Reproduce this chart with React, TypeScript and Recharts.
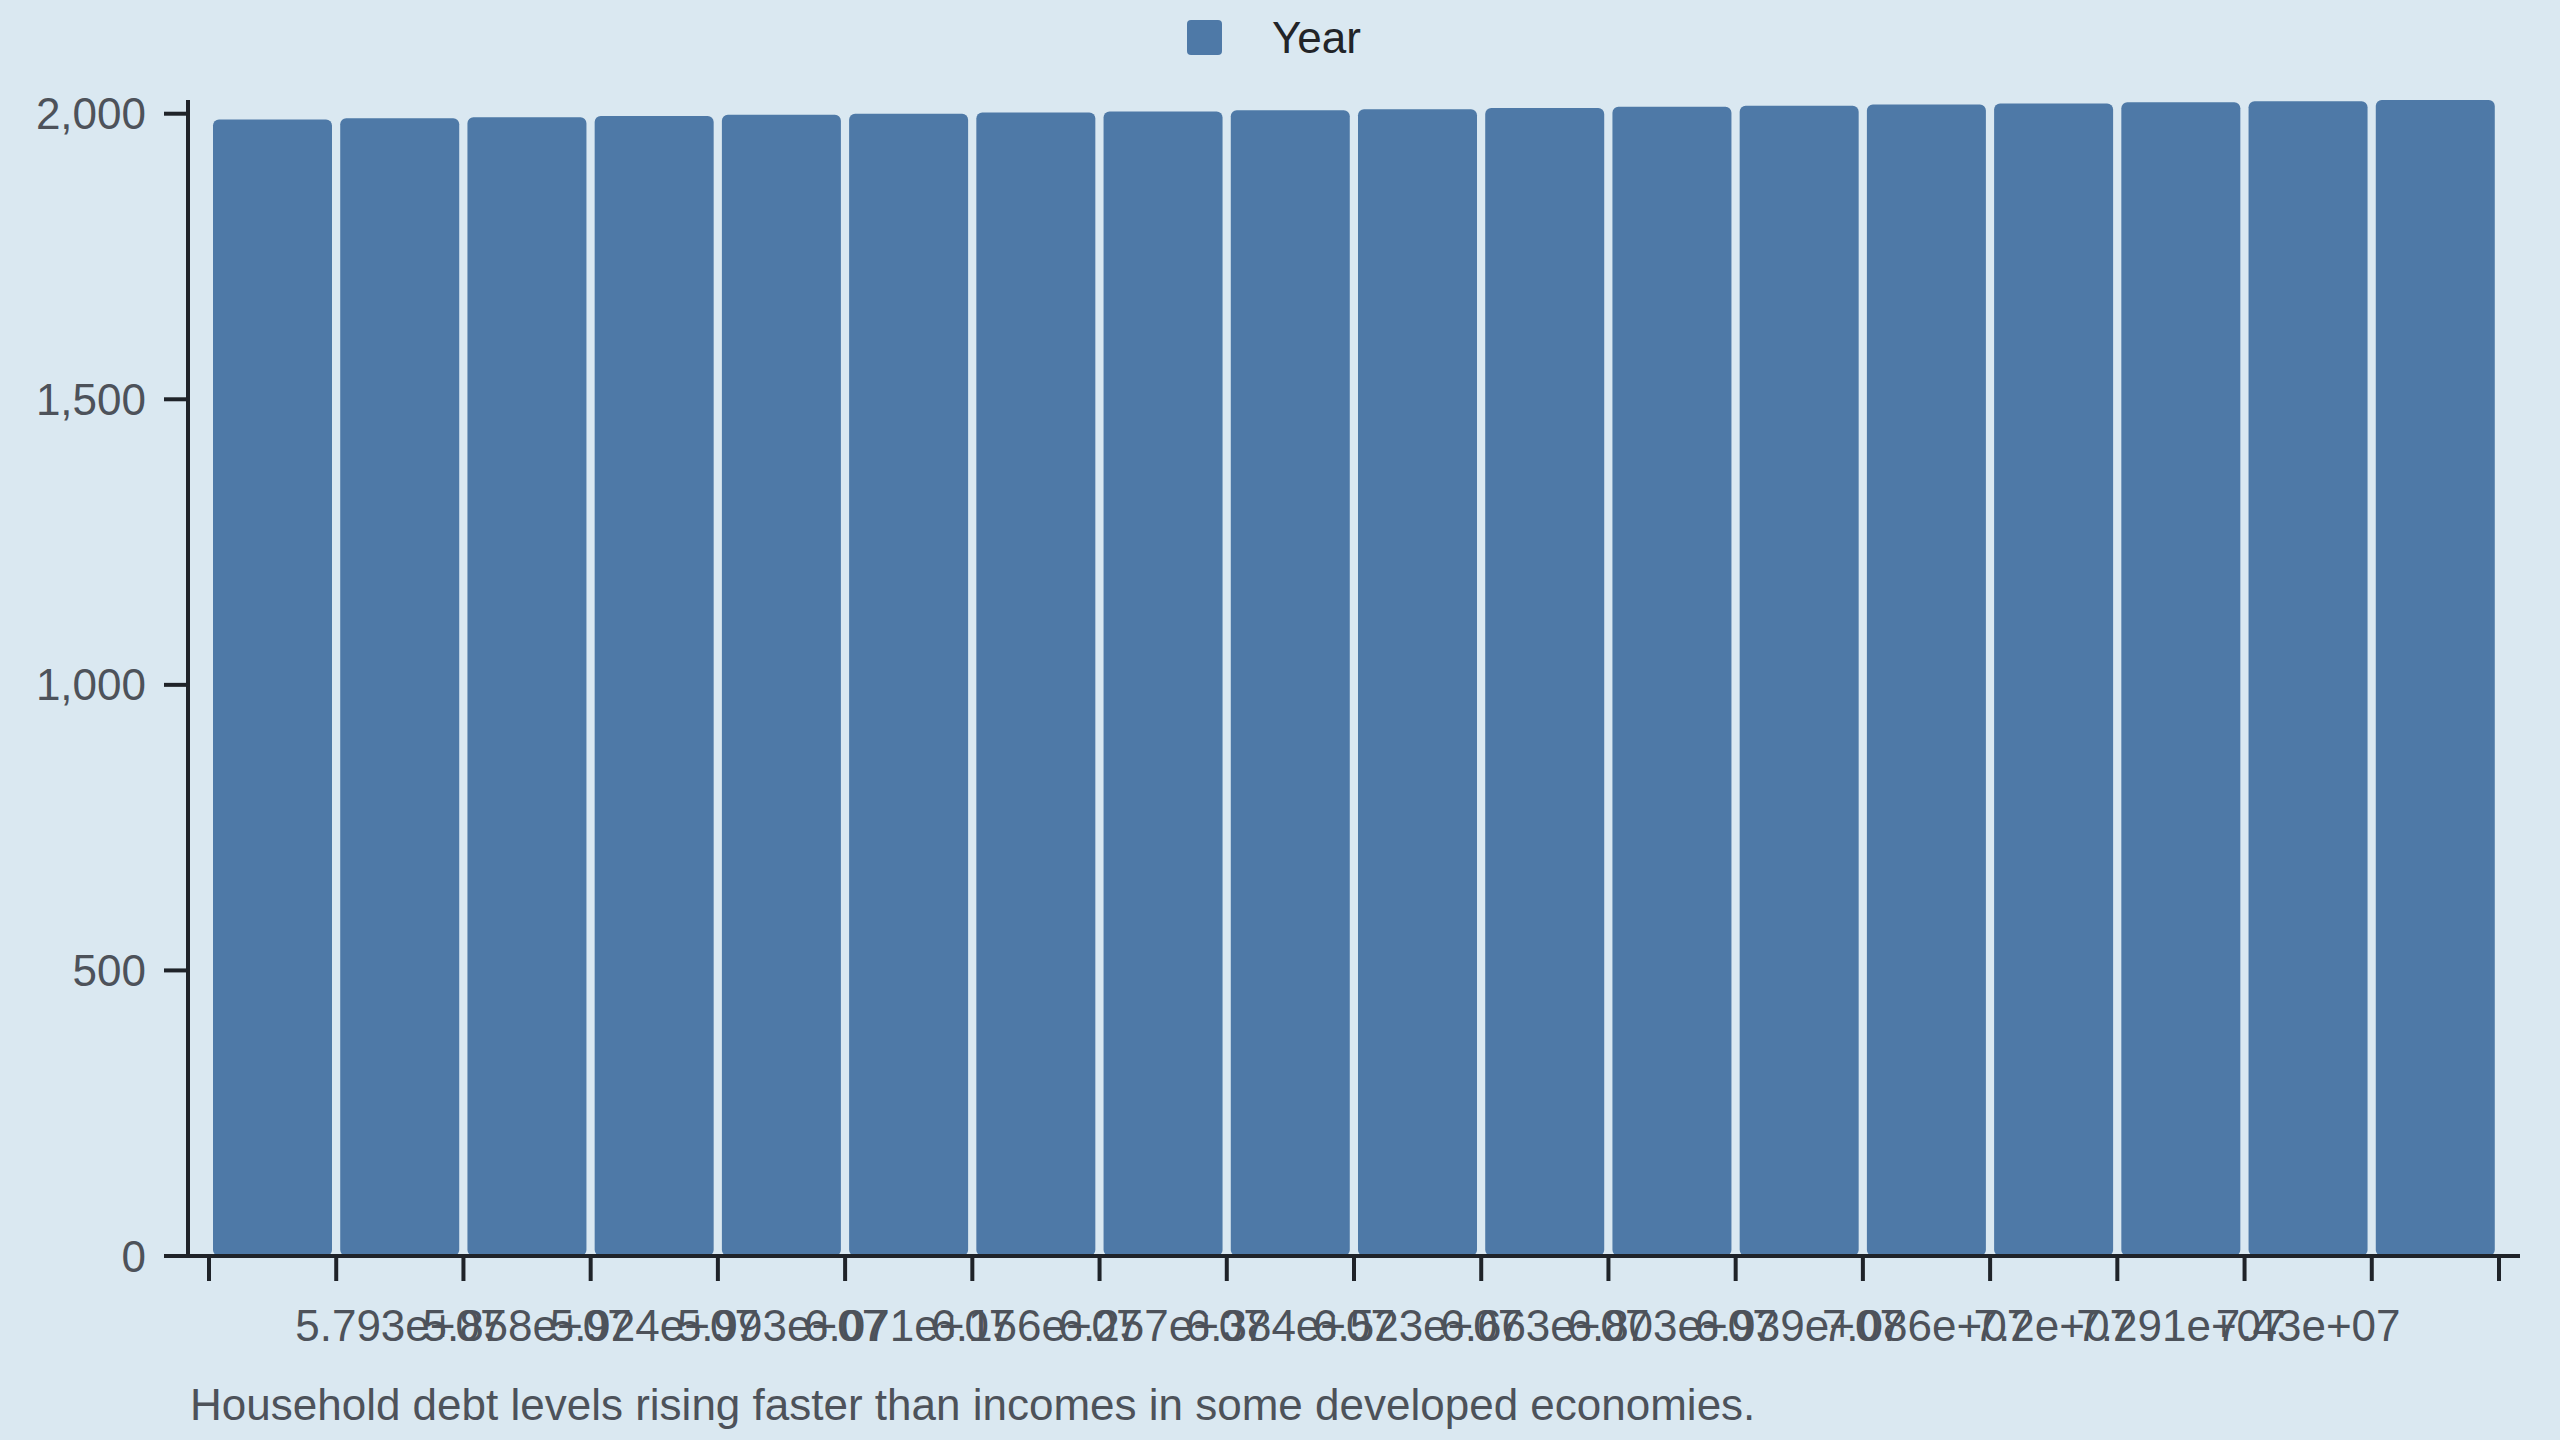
import { Bar, BarChart, XAxis, YAxis, Legend } from "recharts"

const years = [1990, 1992, 1994, 1996, 1998, 2000, 2002, 2004, 2006, 2008, 2010, 2012, 2014, 2016, 2018, 2020, 2022, 2024]

// one label per bar, first and last bars show none
const populationTicks = [
    "", "5.793e+07", "5.858e+07", "5.924e+07", "5.993e+07", "6.071e+07", "6.156e+07", "6.257e+07", "6.384e+07",
    "6.523e+07", "6.663e+07", "6.803e+07", "6.939e+07", "7.086e+07", "7.2e+07", "7.291e+07", "7.43e+07", "",
]

const yTicks = [0, 500, 1000, 1500, 2000]

const caption = "Household debt levels rising faster than incomes in some developed economies."

// mid = bar centre on a 0..n numeric scale, used for the tick marks between bars
const data = years.map((year, i) => ({ mid: i + 0.5, year, population: populationTicks[i] }))
const edgeTicks = Array.from({ length: years.length + 1 }, (_, i) => i)

const FONT = "'Liberation Sans', Arial, sans-serif"
const FS = 44
const AXIS = "#1f2329"
const TEXT = "#4d525a"
const BAR = "#4e79a7"

function LegendContent() {
    return (
        <div style={{ display: "flex", justifyContent: "center", alignItems: "center", gap: 50, height: 35 }}>
            <div style={{ width: 35, height: 35, background: BAR, borderRadius: 4 }} />
            <span style={{ fontSize: FS, lineHeight: 1, color: "#222428", fontFamily: FONT }}>Year</span>
        </div>
    )
}

export default function App() {
    return (
        <div style={{ position: "absolute", left: 0, top: 0, width: 2560, height: 1440, background: "#dae8f1", fontFamily: FONT }}>
            <BarChart
                width={2560}
                height={1440}
                data={data}
                margin={{ top: 100, right: 40, bottom: 182, left: 0 }}
                barCategoryGap={4}
            >
                <Legend
                    verticalAlign="middle"
                    align="center"
                    layout="horizontal"
                    wrapperStyle={{ top: 20, left: 0, width: 2548, height: 35 }}
                    content={<LegendContent />}
                />
                <XAxis
                    dataKey="year"
                    height={1}
                    interval={0}
                    padding={{ left: 21, right: 21 }}
                    tickFormatter={(_, i) => populationTicks[i]}
                    tickLine={false}
                    tickSize={24}
                    tickMargin={30}
                    axisLine={{ stroke: AXIS, strokeWidth: 4 }}
                    tick={{ fontSize: FS, fill: TEXT }}
                />
                <XAxis
                    xAxisId="edges"
                    dataKey="mid"
                    type="number"
                    domain={[0, years.length]}
                    allowDataOverflow
                    ticks={edgeTicks}
                    interval={0}
                    height={1}
                    padding={{ left: 21, right: 21 }}
                    tickFormatter={() => ""}
                    axisLine={false}
                    tickSize={24}
                    tickLine={{ stroke: AXIS, strokeWidth: 4 }}
                />
                <YAxis
                    width={188}
                    domain={[0, "dataMax"]}
                    ticks={yTicks}
                    interval={0}
                    tickFormatter={(v) => v.toLocaleString("en-US")}
                    tickSize={24}
                    tickMargin={18}
                    axisLine={{ stroke: AXIS, strokeWidth: 4 }}
                    tickLine={{ stroke: AXIS, strokeWidth: 4 }}
                    tick={{ fontSize: FS, fill: TEXT }}
                />
                <Bar dataKey="year" name="Year" fill={BAR} radius={6} isAnimationActive={false} />
            </BarChart>
            <div style={{ position: "absolute", left: 190, top: 1383, fontSize: FS, lineHeight: 1, color: TEXT, whiteSpace: "nowrap" }}>
                {caption}
            </div>
        </div>
    )
}
